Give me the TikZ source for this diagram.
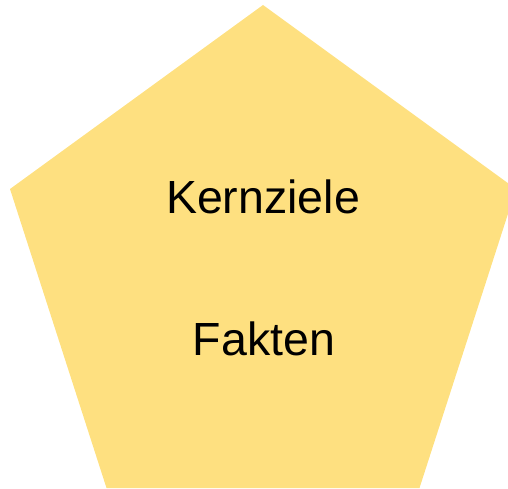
\documentclass[tikz,border=0pt]{standalone}
\usepackage{fontspec}
\setmainfont{Liberation Sans}
\definecolor{pentfill}{RGB}{254,224,128}
\begin{document}
\begin{tikzpicture}[x=1pt,y=1pt,
  lbl/.style={anchor=base,inner sep=0pt,font=\fontsize{46.5}{56}\selectfont,text=black}]
\useasboundingbox (0,0) rectangle (508,488);
\begin{scope}
\clip (0,0) rectangle (508,488);
\fill[pentfill] (263,483) -- (516,299) -- (419.5,0) -- (106.5,0) -- (10,299) -- cycle;
\end{scope}
\node[lbl] (kern) at (263,275) {Kernziele};
\node[lbl] (fakt) at (264,133) {Fakten};
\end{tikzpicture}
\end{document}
